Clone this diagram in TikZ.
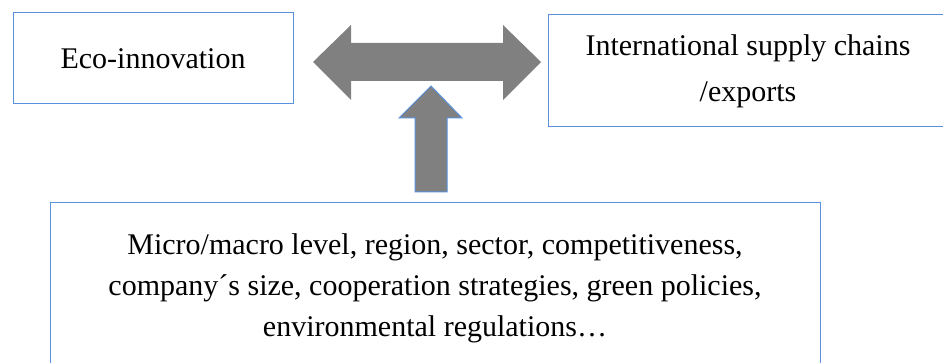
\documentclass[tikz,border=0pt]{standalone}
\usepackage{fontspec}
\setmainfont{Liberation Serif}
\definecolor{boxblue}{RGB}{90,145,220}
\definecolor{arrgray}{RGB}{128,128,128}
\begin{document}
\begin{tikzpicture}[x=1pt,y=1pt,
  box/.style={draw=boxblue,line width=1pt,fill=white,align=center,inner sep=0pt,
    font=\fontsize{30}{43}\selectfont},
  arrowshape/.style={fill=arrgray}]
\useasboundingbox (0,0) rectangle (943,-363);
\clip (0,0) rectangle (943,-363);
\node[box,minimum width=280,minimum height=91] (eco) at (153,-58.5) {Eco-innovation};
\node[box,minimum width=400,minimum height=112,font=\fontsize{30}{46}\selectfont] (isc) at (748,-71) {\raisebox{-3pt}{International supply chains}\\\raisebox{-3pt}{/exports}};
\node[box,minimum width=770,minimum height=170,font=\fontsize{30}{41}\selectfont] (fac) at (435,-288) {Micro/macro level, region, sector, competitiveness,\\company´s size, cooperation strategies, green policies,\\environmental regulations\dots};
% double arrow
\fill[arrowshape] (313,-62) -- (351,-25) -- (351,-43) -- (503,-43) -- (503,-25) -- (541,-62)
  -- (503,-100) -- (503,-81) -- (351,-81) -- (351,-100) -- cycle;
% up arrow
\filldraw[arrowshape,draw=boxblue,line width=1pt] (431,-86) -- (462,-118) -- (447,-118) -- (447,-192)
  -- (415,-192) -- (415,-118) -- (399,-118) -- cycle;
\end{tikzpicture}
\end{document}
